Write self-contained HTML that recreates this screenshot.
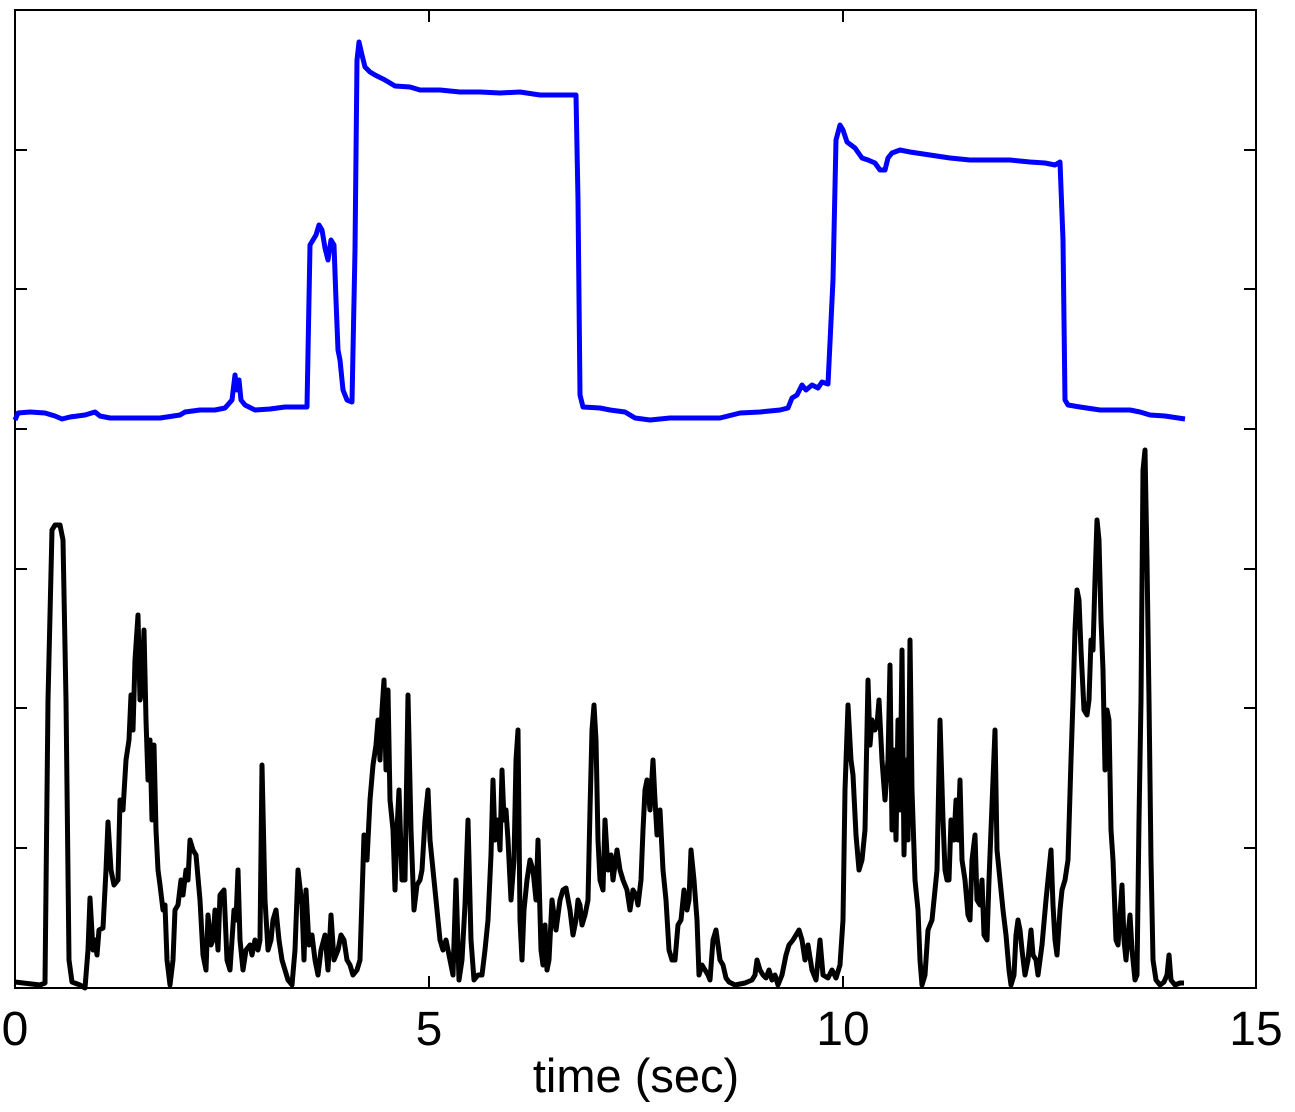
<!DOCTYPE html>
<html><head><style>body{margin:0;background:#fff}svg{display:block}</style></head><body>
<svg width="1295" height="1112" viewBox="0 0 1295 1112" xmlns="http://www.w3.org/2000/svg">
<rect width="1295" height="1112" fill="#fff"/>
<g stroke="#000" stroke-width="2" fill="none">
<rect x="15" y="10" width="1241" height="978"/>
<path d="M15,150h12M15,289h12M15,429h12M15,569h12M15,708h12M15,848h12M1256,150h-12M1256,289h-12M1256,429h-12M1256,569h-12M1256,708h-12M1256,848h-12M429,988v-12M843,988v-12M429,10v12M843,10v12"/>
</g>
<polyline fill="none" stroke="#0000ff" stroke-width="5" stroke-linejoin="round" points="15,420 18,413 30,412 45,413 55,416 62,419 70,417 85,415 95,412 100,416 110,418 140,418 160,418 180,415 185,412 200,410 215,410 225,408 232,400 235,375 237,390 239,380 241,400 245,405 255,410 270,409 285,407 300,407 307,407 310,245 313,240 316,235 319,225 322,230 325,248 328,260 331,240 334,245 336,300 338,350 340,360 343,390 347,400 352,402 355,250 357,60 359,42 362,55 365,67 370,72 375,75 385,80 395,86 410,87 420,90 440,90 460,92 480,92 500,93 520,92 540,95 560,95 576,95 578,200 580,395 583,407 600,408 610,410 625,412 635,418 650,420 670,418 700,418 720,418 740,413 760,412 780,410 788,408 792,398 797,395 802,385 806,390 812,385 818,388 822,382 828,384 833,280 836,140 840,125 843,130 847,142 855,148 862,158 868,160 875,163 880,170 885,170 888,158 892,153 900,150 910,152 930,155 950,158 970,160 990,160 1010,160 1030,162 1045,163 1055,165 1060,162 1063,240 1065,400 1068,405 1080,407 1100,410 1130,410 1140,412 1150,415 1165,416 1185,419"/>
<polyline fill="none" stroke="#000" stroke-width="5" stroke-linejoin="round" points="15,982 40,985 45,983 48,700 52,530 55,525 60,525 63,540 66,700 69,960 72,982 80,985 85,988 88,950 90,898 93,950 95,940 97,955 99,930 103,928 106,870 108,822 111,870 114,885 118,880 120,800 123,810 126,760 129,740 131,695 133,730 135,660 138,615 140,700 142,690 144,630 146,720 148,780 150,740 152,820 154,745 156,830 158,870 160,885 163,910 165,905 167,960 170,985 173,960 175,910 178,905 181,880 183,895 186,870 188,880 190,840 193,850 196,855 200,900 203,955 206,970 208,915 211,945 213,940 215,910 218,950 220,895 224,890 227,960 230,970 234,910 236,920 238,870 240,940 243,970 246,950 250,945 252,955 255,940 258,950 260,940 262,765 265,900 268,950 271,940 273,920 276,910 279,940 282,960 288,980 292,985 295,950 298,870 302,905 304,960 306,890 309,945 312,935 315,960 318,975 321,950 325,935 328,970 331,915 334,960 338,950 341,935 344,940 347,960 350,965 353,975 357,970 360,960 364,835 367,860 370,800 373,765 376,745 378,720 380,760 382,710 384,680 386,770 388,690 390,800 393,830 395,890 397,830 399,790 402,880 405,880 408,695 411,830 414,910 417,885 420,880 422,870 425,820 428,790 430,840 433,870 436,900 440,940 443,950 446,940 450,960 453,975 456,880 459,980 462,960 465,905 468,820 471,940 474,980 478,975 482,975 485,950 488,920 491,855 493,780 495,840 498,820 500,850 502,770 504,820 506,810 508,840 511,900 514,860 516,760 518,730 520,920 522,960 524,910 527,880 530,860 533,870 536,900 538,840 541,950 543,965 545,925 547,970 549,960 552,900 556,930 560,900 563,890 566,888 570,910 573,935 576,920 578,900 580,905 582,925 585,915 588,900 590,810 592,730 594,705 596,740 598,840 600,880 603,890 605,820 608,870 611,855 613,880 617,850 620,870 623,880 627,890 630,910 633,890 636,895 638,905 641,880 643,830 645,790 647,780 650,810 653,760 655,800 657,835 660,810 663,870 666,900 669,950 672,960 675,960 678,925 681,920 684,890 687,910 689,900 691,850 694,880 697,920 699,975 702,965 705,970 708,975 710,980 713,940 716,930 720,960 723,965 726,978 729,982 735,985 745,983 752,980 755,975 757,960 760,970 763,975 766,978 769,970 772,980 775,975 778,985 782,975 786,955 789,945 793,940 796,935 799,930 802,940 805,960 808,945 812,970 816,980 820,940 823,975 828,978 832,970 836,978 840,965 843,920 845,790 848,705 851,760 853,775 856,835 859,870 862,860 865,830 868,680 870,745 872,720 875,730 877,725 879,700 882,760 885,800 888,760 890,665 892,830 894,750 896,840 898,720 900,810 902,650 904,855 906,760 908,840 910,640 912,790 915,880 918,910 920,960 922,985 925,975 928,930 932,920 935,890 937,870 940,720 943,820 945,870 947,880 949,880 951,820 954,840 956,800 958,840 960,780 962,860 965,880 968,915 970,920 972,860 975,835 977,900 980,905 982,880 984,935 987,940 989,880 991,830 993,780 995,730 997,850 1000,880 1003,910 1006,935 1009,970 1011,985 1014,975 1016,935 1018,920 1020,930 1022,950 1025,975 1028,960 1031,930 1033,955 1036,960 1038,975 1042,945 1046,900 1049,870 1051,850 1053,905 1055,940 1057,955 1060,910 1062,890 1065,880 1068,860 1071,760 1073,700 1075,630 1077,590 1079,600 1081,650 1084,710 1087,715 1089,700 1091,640 1093,650 1095,580 1097,520 1099,540 1101,620 1103,670 1105,770 1107,710 1109,720 1111,830 1113,860 1116,940 1118,945 1120,915 1122,885 1124,940 1126,960 1128,935 1130,915 1132,950 1135,980 1137,975 1139,820 1141,700 1143,470 1145,450 1147,560 1149,700 1151,860 1153,960 1156,980 1160,985 1164,982 1167,975 1169,955 1171,980 1175,985 1180,983 1184,983"/>
<g font-family="Liberation Sans, sans-serif" font-size="48" fill="#000" text-anchor="middle">
<text x="15" y="1045">0</text>
<text x="429" y="1045">5</text>
<text x="843" y="1045">10</text>
<text x="1256" y="1045">15</text>
<text x="636" y="1092" font-size="47">time (sec)</text>
</g>
</svg>
</body></html>
